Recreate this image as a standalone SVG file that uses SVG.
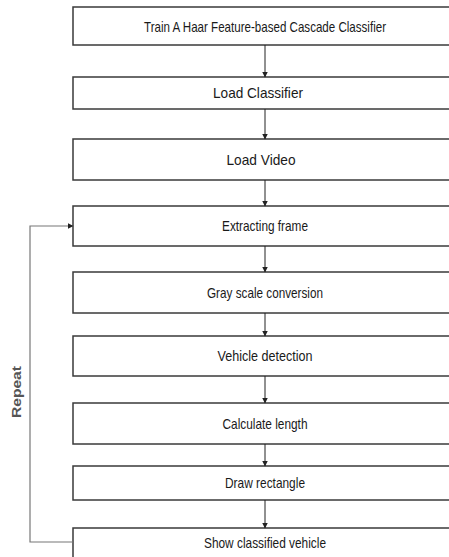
<svg xmlns="http://www.w3.org/2000/svg" width="449" height="557" viewBox="0 0 449 557">
<defs>
<style>
.box{fill:#fff;stroke:#3a3a3a;stroke-width:1.5}
.lbl{font-family:"Liberation Sans",Arial,sans-serif;font-size:14.5px;fill:#1a1a1a;text-anchor:middle}
.con{fill:none;stroke:#222;stroke-width:1}
.loop{fill:none;stroke:#777;stroke-width:1.2}
.rep{font-family:"Liberation Sans",Arial,sans-serif;font-size:13px;font-weight:bold;fill:#555;text-anchor:middle}
</style>
<marker id="ah" markerWidth="6" markerHeight="6" refX="5.5" refY="3" orient="auto" markerUnits="userSpaceOnUse">
<path d="M0,0 L6,3 L0,6 Z" fill="#222"/>
</marker>
</defs>
<rect width="449" height="557" fill="#fff"/>
<g id="n1"><rect class="box" x="73" y="7" width="400" height="38"/><text class="lbl" x="265" y="31.5" textLength="242" lengthAdjust="spacingAndGlyphs">Train A Haar Feature-based Cascade Classifier</text></g>
<g id="n2"><rect class="box" x="73" y="77" width="400" height="32"/><text class="lbl" x="258" y="98" textLength="90" lengthAdjust="spacingAndGlyphs">Load Classifier</text></g>
<g id="n3"><rect class="box" x="73" y="139" width="400" height="41"/><text class="lbl" x="261" y="165" textLength="69" lengthAdjust="spacingAndGlyphs">Load Video</text></g>
<g id="n4"><rect class="box" x="73" y="206" width="400" height="40"/><text class="lbl" x="265" y="231" textLength="86" lengthAdjust="spacingAndGlyphs">Extracting frame</text></g>
<g id="n5"><rect class="box" x="73" y="272" width="400" height="41"/><text class="lbl" x="265" y="298" textLength="116" lengthAdjust="spacingAndGlyphs">Gray scale conversion</text></g>
<g id="n6"><rect class="box" x="73" y="336" width="400" height="40"/><text class="lbl" x="265" y="361" textLength="95" lengthAdjust="spacingAndGlyphs">Vehicle detection</text></g>
<g id="n7"><rect class="box" x="73" y="403" width="400" height="41"/><text class="lbl" x="265" y="429" textLength="85" lengthAdjust="spacingAndGlyphs">Calculate length</text></g>
<g id="n8"><rect class="box" x="73" y="466" width="400" height="34"/><text class="lbl" x="265" y="488" textLength="80" lengthAdjust="spacingAndGlyphs">Draw rectangle</text></g>
<g id="n9"><rect class="box" x="73" y="528" width="400" height="60"/><text class="lbl" x="265" y="548" textLength="122" lengthAdjust="spacingAndGlyphs">Show classified vehicle</text></g>
<g id="connectors">
<line class="con" x1="265" y1="45" x2="265" y2="77" marker-end="url(#ah)"/>
<line class="con" x1="265" y1="109" x2="265" y2="139" marker-end="url(#ah)"/>
<line class="con" x1="265" y1="180" x2="265" y2="206" marker-end="url(#ah)"/>
<line class="con" x1="265" y1="246" x2="265" y2="272" marker-end="url(#ah)"/>
<line class="con" x1="265" y1="313" x2="265" y2="336" marker-end="url(#ah)"/>
<line class="con" x1="265" y1="376" x2="265" y2="403" marker-end="url(#ah)"/>
<line class="con" x1="265" y1="444" x2="265" y2="466" marker-end="url(#ah)"/>
<line class="con" x1="265" y1="500" x2="265" y2="528" marker-end="url(#ah)"/>
<polyline class="loop" points="73,542 30,542 30,226 73,226" marker-end="url(#ah)"/>
<text class="rep" transform="translate(21,392) rotate(-90)" textLength="52" lengthAdjust="spacingAndGlyphs">Repeat</text>
</g>
</svg>
